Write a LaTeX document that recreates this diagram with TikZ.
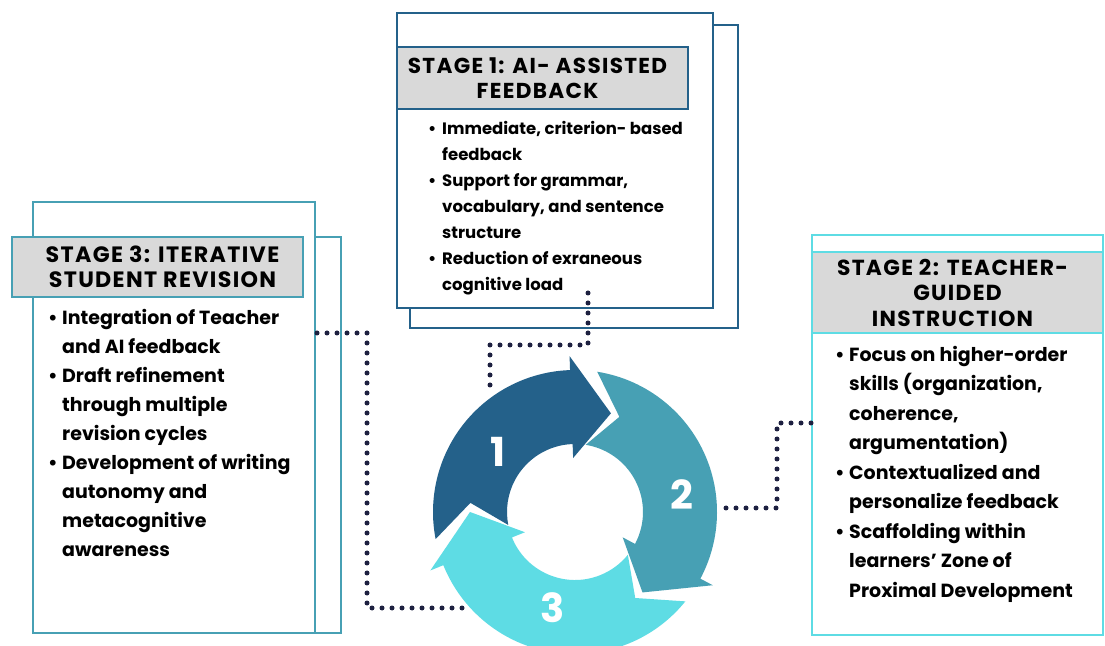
\documentclass[tikz,border=0pt]{standalone}
\usepackage{fontspec}
\setmainfont{Poppins}[BoldFont={Poppins Bold}]
\definecolor{cycleblue}{HTML}{24618A}
\definecolor{cycleteal}{HTML}{47A0B4}
\definecolor{cyclecyan}{HTML}{5EDCE4}
\definecolor{headgray}{HTML}{D9D9D9}
\definecolor{dotnavy}{HTML}{1D2040}
\begin{document}
\begin{tikzpicture}[x=1pt,y=1pt,line join=miter,font=\bfseries]
	\tikzset{
		stageframe/.style={fill=white,line width=2.8pt},
		stagehead/.style={fill=headgray,line width=2.8pt,inner sep=0pt,minimum width=291pt,align=center},
		stagetext/.style={anchor=north west,inner sep=0pt,align=left},
		linkdots/.style={draw=dotnavy,line width=5pt,line cap=round,dash pattern=on 0pt off 10pt},
		cyclenum/.style={text=white,font=\bfseries\fontsize{40}{40}\selectfont}
	}
	\def\headfont#1#2{\bfseries\fontsize{#1}{#2}\selectfont\addfontfeatures{LetterSpace=6}}
	\def\bl{\makebox[14pt][l]{\textbullet}}
	\def\ind{\hspace*{14pt}}
	\def\pad{\hspace*{10pt}}
	\fill[white] (0,0) rectangle (1105,645);
	\useasboundingbox (0,0) rectangle (1105,645);
	%--------- Stage 1
	\draw[stageframe,draw=cycleblue] (410,620) rectangle (738,317);
	\draw[stageframe,draw=cycleblue] (397,632) rectangle (713,337);
	\node[stagehead,draw=cycleblue,minimum height=62pt,font=\headfont{21.6}{25.5}] (head1) at (542.5,567) {STAGE 1: AI- ASSISTED\pad\\FEEDBACK\pad};
	\node[stagetext,font=\bfseries\fontsize{16.5}{26}\selectfont] (text1) at (428,524) {\bl Immediate, criterion- based\\ \ind feedback\\
		\bl Support for grammar,\\ \ind vocabulary, and sentence\\ \ind structure\\
		\bl Reduction of exraneous\\ \ind cognitive load};
	%--------- Stage 3
	\draw[stageframe,draw=cycleteal] (60,12) rectangle (341,408);
	\draw[stageframe,draw=cycleteal] (33,12) rectangle (315,443);
	\node[stagehead,draw=cycleteal,minimum height=60pt,font=\headfont{22.2}{24.5}] (head3) at (157.5,378) {\pad STAGE 3: ITERATIVE\\\pad STUDENT REVISION};
	\node[stagetext,font=\bfseries\fontsize{19}{29}\selectfont] (text3) at (48,336) {\bl Integration of Teacher\\ \ind and AI feedback\\
		\bl Draft refinement\\ \ind through multiple\\ \ind revision cycles\\
		\bl Development of writing\\ \ind autonomy and\\ \ind metacognitive\\ \ind awareness};
	%--------- Stage 2
	\draw[stageframe,draw=cyclecyan,line width=2.4pt] (812,10) rectangle (1103,410);
	\node[stagehead,draw=cyclecyan,line width=2.4pt,minimum height=81pt,font=\headfont{21.8}{25.5}] (head2) at (957.5,352.5) {STAGE 2: TEACHER-\pad\\GUIDED\pad\\INSTRUCTION\pad};
	\node[stagetext,font=\bfseries\fontsize{19}{29.5}\selectfont] (text2) at (835,299) {\bl Focus on higher-order\\ \ind skills (organization,\\
		\ind coherence,\\ \ind argumentation)\\ \bl Contextualized and\\ \ind personalize feedback\\
		\bl Scaffolding within\\ \ind learners’ Zone of\\ \ind Proximal Development};
	%--------- Cycle
	\def\rin{68} \def\rout{142} \def\rmid{105}
	\def\cyclearrow#1#2#3{%
		\fill[#3] ({#1+11}:\rout) arc[start angle={#1+11},end angle={#2+22},radius=\rout]
		-- ({#2+22}:{\rout+14}) -- (#2:\rmid) -- ({#2+22}:{\rin-14}) -- ({#2+22}:\rin)
		arc[start angle={#2+22},end angle={#1+11},radius=\rin] -- ({#1-5}:\rmid) -- cycle;}
	\begin{scope}[shift={(575,133)}]
		\cyclearrow{180}{70}{cycleblue}
		\cyclearrow{70}{-50}{cycleteal}
		\cyclearrow{310}{180}{cyclecyan}
	\end{scope}
	\node[cyclenum] (num1) at (498,193) {1};
	\node[cyclenum] (num2) at (682,150) {2};
	\node[cyclenum] (num3) at (553,37) {3};
	%--------- Links
	\coordinate (s1link) at (588,352);
	\coordinate (a1link) at (490,256);
	\coordinate (a2link) at (726,137);
	\coordinate (s2link) at (812,222);
	\coordinate (s3link) at (317,312);
	\coordinate (a3link) at (472,37);
	\draw[linkdots] (s1link) -- ++(0,-52) -| (a1link);
	\draw[linkdots] (a2link) -- ++(51,0) |- (s2link);
	\draw[linkdots] (s3link) -- ++(50,0) |- (a3link);
\end{tikzpicture}
\end{document}
